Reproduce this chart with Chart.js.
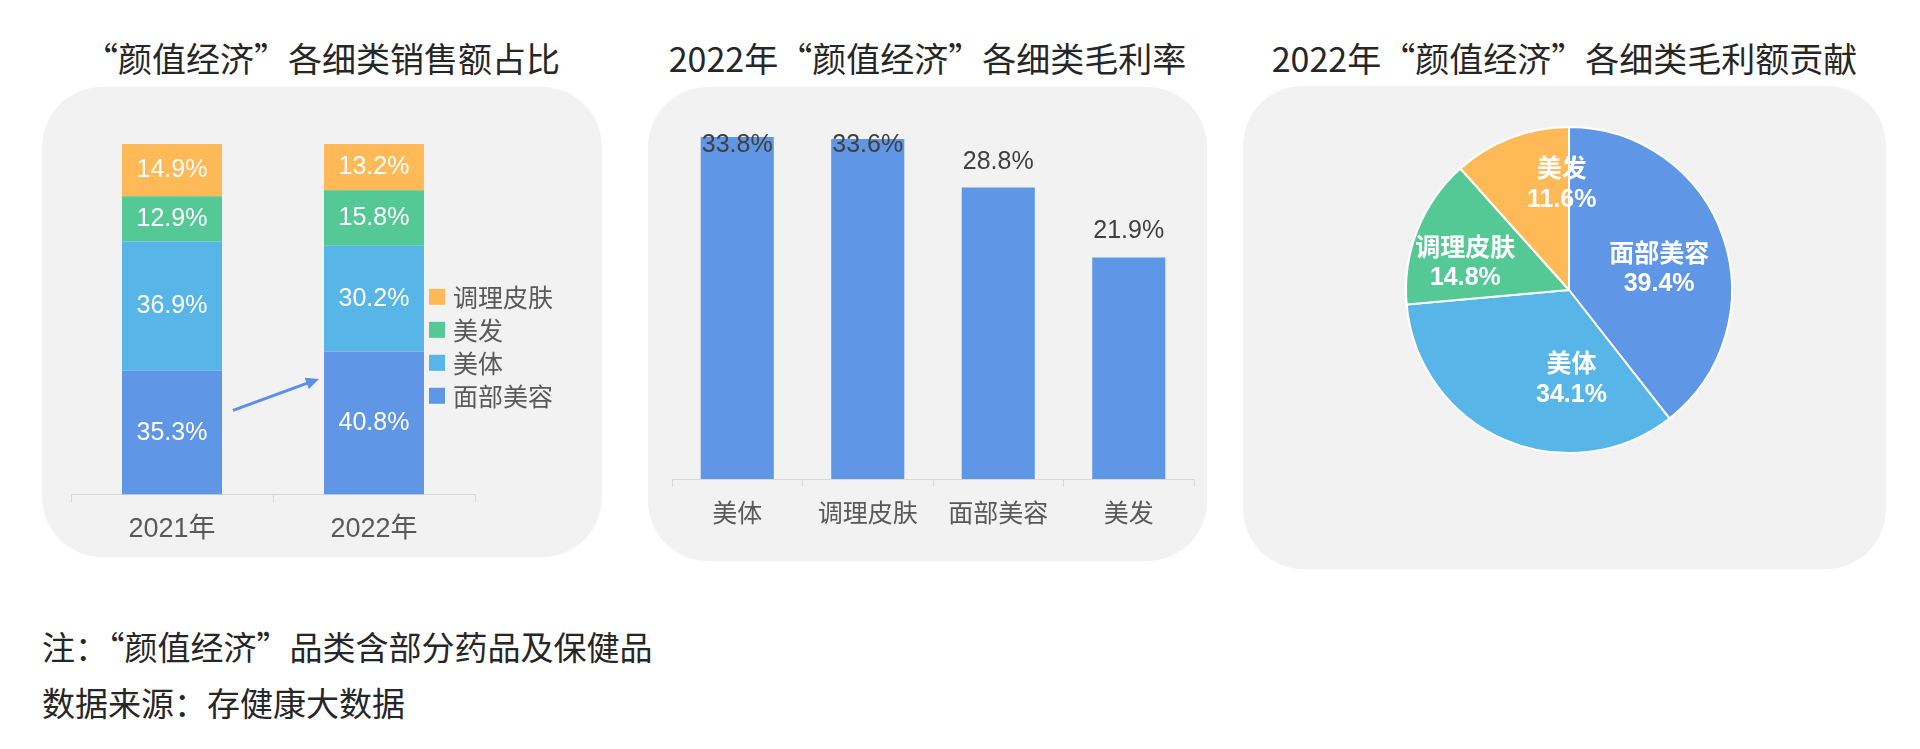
<!DOCTYPE html>
<html lang="zh-CN">
<head>
<meta charset="utf-8">
<script src="https://cdn.jsdelivr.net/npm/chart.js@4.4.1/dist/chart.umd.min.js"></script>
<style>
  html, body { margin: 0; padding: 0; background: #ffffff; }
  #page { position: relative; width: 1920px; height: 749px; overflow: hidden; background: #ffffff;
          font-family: "Noto Sans CJK SC", "Noto Sans", sans-serif; }
  .panel { position: absolute; background: #F2F2F2; border-radius: 60px; }
  .panel canvas { position: absolute; left: 0; top: 0; }
  .title { position: absolute; text-align: center; font-size: 34px; line-height: 40px; color: #262626; white-space: nowrap; }
  .note { position: absolute; left: 42px; font-size: 33px; line-height: 40px; color: #262626; white-space: nowrap; }
</style>
</head>
<body>
<div id="page">
  <div class="title" style="left:42px; top:38px; width:560px;">“颜值经济”各细类销售额占比</div>
  <div class="title" style="left:648px; top:38px; width:559px;">2022年“颜值经济”各细类毛利率</div>
  <div class="title" style="left:1243px; top:38px; width:643px;">2022年“颜值经济”各细类毛利额贡献</div>

  <div class="panel" style="left:42px; top:87px; width:560px; height:470px;"><canvas id="c1" width="560" height="470"></canvas></div>
  <div class="panel" style="left:648px; top:87px; width:559px; height:474px;"><canvas id="c2" width="559" height="474"></canvas></div>
  <div class="panel" style="left:1243px; top:86px; width:643px; height:483px;"><canvas id="c3" width="643" height="483"></canvas></div>

  <div class="note" style="top:626px;">注：“颜值经济”品类含部分药品及保健品</div>
  <div class="note" style="top:682px;">数据来源：存健康大数据</div>
</div>
<script>
// ---------- data ----------
const years = ['2021年', '2022年'];
const faceShare = [35.3, 40.8];   // 面部美容
const bodyShare = [36.9, 30.2];   // 美体
const hairShare = [12.9, 15.8];   // 美发
const skinShare = [14.9, 13.2];   // 调理皮肤

const marginCats = ['美体', '调理皮肤', '面部美容', '美发'];
const marginRates = [33.8, 33.6, 28.8, 21.9];

const pieCats = ['面部美容', '美体', '调理皮肤', '美发'];
const pieShares = [39.4, 34.1, 14.8, 11.6];

// ---------- styles ----------
const COL = { face: '#6096E6', body: '#57B5E7', hair: '#55C995', skin: '#FFB957' };
const NUM_FONT = '"Liberation Sans Narrow", "Liberation Sans", Arial, sans-serif';
const CJK_FONT = '"Liberation Sans", "Noto Sans CJK SC", sans-serif';
// label placement inside pie slices (radius fraction, angle nudge in degrees)
const pieLabelPlacement = [
  { k: 0.57, nudge: 5 },
  { k: 0.54, nudge: -25 },
  { k: 0.66, nudge: -6 },
  { k: 0.66, nudge: 17 }
];
const pct = v => v.toFixed(1) + '%';

// ---------- chart 1: stacked share ----------
const stackLabels = {
  id: 'stackLabels',
  afterDatasetsDraw(chart) {
    const ctx = chart.ctx;
    ctx.save();
    ctx.font = '25px ' + NUM_FONT;
    ctx.fillStyle = '#ffffff';
    ctx.textAlign = 'center';
    ctx.textBaseline = 'middle';
    chart.data.datasets.forEach((ds, i) => {
      chart.getDatasetMeta(i).data.forEach((bar, j) => {
        ctx.fillText(pct(ds.data[j]), bar.x, (bar.y + bar.base) / 2);
      });
    });
    ctx.restore();
  }
};
const sideLegend = {
  id: 'sideLegend',
  afterDraw(chart) {
    const ctx = chart.ctx;
    const area = chart.chartArea;
    const bar = chart.getDatasetMeta(0).data[1];
    const x0 = bar.x + bar.width / 2 + 5;
    const items = chart.data.datasets.slice().reverse();
    const gap = 33;
    const cy = (area.top + area.bottom) / 2 + 27;
    const y0 = cy - gap * (items.length - 1) / 2;
    ctx.save();
    ctx.font = '25px "Noto Sans CJK SC", sans-serif';
    ctx.textBaseline = 'middle';
    ctx.textAlign = 'left';
    items.forEach((ds, k) => {
      const y = y0 + k * gap;
      ctx.fillStyle = ds.backgroundColor;
      ctx.fillRect(x0, y - 8, 16, 16);
      ctx.fillStyle = '#595959';
      ctx.fillText(ds.label, x0 + 24, y + 1);
    });
    ctx.restore();
  }
};
const trendArrow = {
  id: 'trendArrow',
  afterDraw(chart) {
    const ctx = chart.ctx;
    const ys = chart.scales.y;
    const b0 = chart.getDatasetMeta(0).data[0];
    const b1 = chart.getDatasetMeta(0).data[1];
    const x1 = b0.x + b0.width / 2 + 11, y1 = ys.getPixelForValue(24);
    const x2 = b1.x - b1.width / 2 - 5, y2 = ys.getPixelForValue(33);
    const ang = Math.atan2(y2 - y1, x2 - x1);
    ctx.save();
    ctx.strokeStyle = '#5B8FE5';
    ctx.fillStyle = '#5B8FE5';
    ctx.lineWidth = 3;
    ctx.beginPath();
    ctx.moveTo(x1, y1);
    ctx.lineTo(x2 - 8 * Math.cos(ang), y2 - 8 * Math.sin(ang));
    ctx.stroke();
    ctx.beginPath();
    ctx.moveTo(x2, y2);
    ctx.lineTo(x2 - 13 * Math.cos(ang) + 6 * Math.sin(ang), y2 - 13 * Math.sin(ang) - 6 * Math.cos(ang));
    ctx.lineTo(x2 - 13 * Math.cos(ang) - 6 * Math.sin(ang), y2 - 13 * Math.sin(ang) + 6 * Math.cos(ang));
    ctx.closePath();
    ctx.fill();
    ctx.restore();
  }
};

new Chart(document.getElementById('c1'), {
  type: 'bar',
  data: {
    labels: years,
    datasets: [
      { label: '面部美容', data: faceShare, backgroundColor: COL.face },
      { label: '美体', data: bodyShare, backgroundColor: COL.body },
      { label: '美发', data: hairShare, backgroundColor: COL.hair },
      { label: '调理皮肤', data: skinShare, backgroundColor: COL.skin }
    ]
  },
  options: {
    responsive: false,
    animation: false,
    layout: { padding: { left: 29, right: 127, top: 57, bottom: 0 } },
    plugins: { legend: { display: false }, tooltip: { enabled: false } },
    datasets: { bar: { categoryPercentage: 1, barPercentage: 0.495 } },
    scales: {
      x: {
        stacked: true,
        grid: { display: true, drawOnChartArea: false, drawTicks: true, tickLength: 8, color: '#D9D9D9', offset: true },
        border: { display: true, color: '#D9D9D9' },
        ticks: { color: '#595959', padding: 11, font: { size: 27, family: CJK_FONT } }
      },
      y: { stacked: true, display: false, min: 0, max: 100 }
    }
  },
  plugins: [stackLabels, sideLegend, trendArrow]
});

// ---------- chart 2: gross margin ----------
const topLabels = {
  id: 'topLabels',
  afterDatasetsDraw(chart) {
    const ctx = chart.ctx;
    const area = chart.chartArea;
    ctx.save();
    ctx.font = '25px ' + NUM_FONT;
    ctx.fillStyle = '#404040';
    ctx.textAlign = 'center';
    ctx.textBaseline = 'middle';
    const ds = chart.data.datasets[0];
    chart.getDatasetMeta(0).data.forEach((bar, j) => {
      const y = Math.max(bar.y - 26, area.top + 10);
      ctx.fillText(pct(ds.data[j]), bar.x, y);
    });
    ctx.restore();
  }
};

new Chart(document.getElementById('c2'), {
  type: 'bar',
  data: {
    labels: marginCats,
    datasets: [{ label: '毛利率', data: marginRates, backgroundColor: COL.face }]
  },
  options: {
    responsive: false,
    animation: false,
    layout: { padding: { left: 24, right: 13, top: 48, bottom: 24 } },
    plugins: { legend: { display: false }, tooltip: { enabled: false } },
    datasets: { bar: { categoryPercentage: 1, barPercentage: 0.56 } },
    scales: {
      x: {
        grid: { display: true, drawOnChartArea: false, drawTicks: true, tickLength: 8, color: '#D9D9D9', offset: true },
        border: { display: true, color: '#D9D9D9' },
        ticks: { color: '#595959', padding: 10, font: { size: 25, family: '"Noto Sans CJK SC", sans-serif' } }
      },
      y: { display: false, min: 0, max: 34 }
    }
  },
  plugins: [topLabels]
});

// ---------- chart 3: gross profit contribution ----------
const pieLabels = {
  id: 'pieLabels',
  afterDatasetsDraw(chart) {
    const ctx = chart.ctx;
    const ds = chart.data.datasets[0];
    ctx.save();
    ctx.fillStyle = '#ffffff';
    ctx.textAlign = 'center';
    ctx.textBaseline = 'middle';
    chart.getDatasetMeta(0).data.forEach((arc, j) => {
      const p = pieLabelPlacement[j];
      const mid = (arc.startAngle + arc.endAngle) / 2 + p.nudge * Math.PI / 180;
      const r = arc.outerRadius * p.k;
      const x = arc.x + Math.cos(mid) * r;
      const y = arc.y + Math.sin(mid) * r;
      ctx.font = 'bold 25px "Noto Sans CJK SC", sans-serif';
      ctx.fillText(chart.data.labels[j], x, y - 15);
      ctx.font = 'bold 25px "Liberation Sans", Arial, sans-serif';
      ctx.fillText(pct(ds.data[j]), x, y + 17);
    });
    ctx.restore();
  }
};

new Chart(document.getElementById('c3'), {
  type: 'pie',
  data: {
    labels: pieCats,
    datasets: [{
      data: pieShares,
      backgroundColor: [COL.face, COL.body, COL.hair, COL.skin],
      borderColor: '#ffffff',
      borderWidth: 2
    }]
  },
  options: {
    responsive: false,
    animation: false,
    layout: { padding: { left: 162, right: 153, top: 40, bottom: 115 } },
    plugins: { legend: { display: false }, tooltip: { enabled: false } }
  },
  plugins: [pieLabels]
});
</script>
</body>
</html>
